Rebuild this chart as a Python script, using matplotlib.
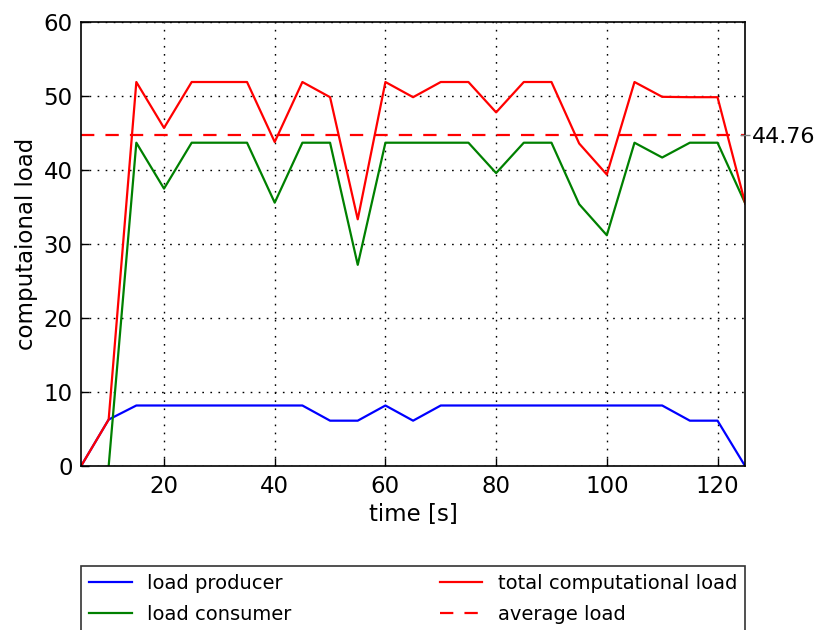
import matplotlib
matplotlib.use("Agg")
import matplotlib.pyplot as plt

# time axis [s]
time = [5, 10, 15, 20, 25, 30, 35, 40, 45, 50, 55, 60, 65,
        70, 75, 80, 85, 90, 95, 100, 105, 110, 115, 120, 125]
time_consumer = time[1:]

producer = [0, 6.3, 8.2, 8.2, 8.2, 8.2, 8.2, 8.2, 8.2, 6.15, 6.15, 8.2, 6.15,
            8.2, 8.2, 8.2, 8.2, 8.2, 8.2, 8.2, 8.2, 8.2, 6.15, 6.15, 0]
consumer = [0, 43.7, 37.5, 43.7, 43.7, 43.7, 35.6, 43.7, 43.7, 27.2, 43.7, 43.7,
            43.7, 43.7, 39.6, 43.7, 43.7, 35.4, 31.2, 43.7, 41.7, 43.7, 43.7, 35.5]
total = [0, 6.3, 51.9, 45.7, 51.9, 51.9, 51.9, 43.8, 51.9, 49.85, 33.35, 51.9, 49.85,
         51.9, 51.9, 47.8, 51.9, 51.9, 43.6, 39.4, 51.9, 49.9, 49.85, 49.85, 35.5]
avg_load = 44.76

fs = 16.5
lw = 1.6
fig = plt.figure(figsize=(8.18, 6.30), dpi=100)
ax = fig.add_axes([0.099, 0.26, 0.812, 0.705])

ax.plot(time, producer, color='b', lw=lw, label='load producer')
ax.plot(time_consumer, consumer, color='g', lw=lw, label='load consumer')
ax.plot(time, total, color='r', lw=lw, label='total computational load')
ax.axhline(avg_load, color='r', ls='--', lw=lw, dashes=(6, 5), label='average load')

ax.set_xlim(5, 125)
ax.set_ylim(0, 60)
ax.set_xticks([20, 40, 60, 80, 100, 120])
ax.set_yticks(range(0, 61, 10))
ax.grid(True, color='black', ls=(0, (1.2, 4.6)), lw=1)
ax.tick_params(direction='in', length=6, width=1, labelsize=fs, pad=6,
               top=False, right=False)
for s in ax.spines.values():
    s.set_linewidth(1.2)
ax.set_xlabel('time [s]', fontsize=fs)
ax.set_ylabel('computaional load', fontsize=fs)

# average value marker on the right side
ax2 = ax.twinx()
ax2.set_ylim(ax.get_ylim())
ax2.set_yticks([avg_load])
ax2.set_yticklabels(['%.2f' % avg_load])
ax2.tick_params(direction='inout', length=7, width=1, color='gray',
                labelsize=16, pad=1)
for s in ax2.spines.values():
    s.set_visible(False)

leg = ax.legend(loc='upper left', bbox_to_anchor=(0, -0.325, 1, 0.1),
                mode='expand', ncol=2, fontsize=14, frameon=True,
                fancybox=False, handlelength=2.2, borderaxespad=0,
                labelspacing=0.6)
leg.get_frame().set_edgecolor('black')
leg.get_frame().set_linewidth(1.2)

fig.savefig('out.png', dpi=100)
